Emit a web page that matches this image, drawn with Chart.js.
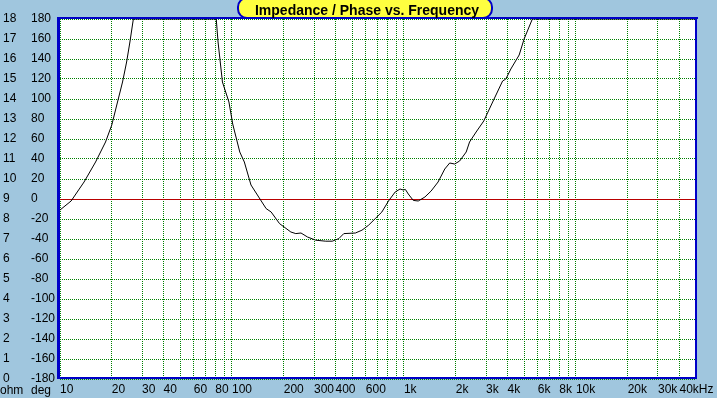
<!DOCTYPE html>
<html><head><meta charset="utf-8">
<script src="https://cdn.jsdelivr.net/npm/chart.js@4"></script>
<style>html,body{margin:0;padding:0;background:#a0c6de;overflow:hidden}canvas{display:block}</style>
</head><body>
<canvas id="c" width="717" height="398"></canvas>
<script>
const TITLE = 'Impedance / Phase vs. Frequency';
const UNIT_OHM = 'ohm';
const UNIT_DEG = 'deg';

// Impedance curve (Hz, ohm); 18 = clipped at top of scale
const frequencyHz = [10, 11.6, 13.8, 16.1, 18.4, 20, 21.6, 23.1, 24.4, 25.5, 26.7, 40, 60, 81,
  83, 88, 96, 101, 111, 118, 129, 148, 158, 169, 189, 201, 220, 235, 252, 275, 307, 351, 383,
  418, 447, 522, 570, 623, 681, 744, 813, 889, 949, 992, 1019, 1060, 1133, 1211, 1324, 1439,
  1579, 1727, 1845, 1972, 2107, 2301, 2407, 2628, 2911, 3280, 3746, 3914, 4183, 4677, 4997,
  5580, 10000, 50000];
const impedanceOhm = [8.45, 8.9, 9.85, 10.85, 11.85, 12.7, 13.85, 14.85, 15.85, 16.85, 18, 18, 18, 18,
  16.85, 14.85, 13.85, 12.75, 11.35, 10.85, 9.7, 8.9, 8.52, 8.35, 7.77, 7.6, 7.35, 7.27, 7.3, 7.1, 6.94, 6.89, 6.89,
  7.02, 7.27, 7.3, 7.44, 7.69, 8.02, 8.35, 8.9, 9.35, 9.5, 9.45, 9.48, 9.25, 8.93, 8.9, 9.1, 9.4,
  9.85, 10.5, 10.8, 10.75, 10.9, 11.35, 11.85, 12.35, 12.9, 13.85, 14.9, 15.0, 15.5, 16.2, 17.0,
  18, 18, 18];

// Axes
const freqMin = 10, freqMax = 50000;
const ohmMin = 0, ohmMax = 18, ohmStep = 1;
const degMin = -180, degMax = 180, degStep = 20;
const xGridValues = [10,20,30,40,50,60,70,80,90,100,200,300,400,500,600,700,800,900,
  1000,2000,3000,4000,5000,6000,7000,8000,9000,10000,20000,30000,40000];
const xLabelValues = [10,20,30,40,60,80,100,200,300,400,600,1000,2000,3000,4000,6000,8000,10000,20000,30000,40000];
const xLabelTexts = ['10','20','30','40','60','80','100','200','300','400','600','1k','2k','3k','4k','6k','8k','10k','20k','30k','40kHz'];

const BG = '#a0c6de';
const FRAME = '#0000c8';
const GRID = '#008000';
const ZERO = '#b80000';
const FONT = '"Liberation Sans", Arial, sans-serif';

const points = frequencyHz.map((f, i) => ({x: f, y: impedanceOhm[i]}));

const deco = {
  id: 'deco',
  beforeDraw(chart) {
    const ctx = chart.ctx, a = chart.chartArea;
    ctx.save();
    ctx.fillStyle = BG;
    ctx.fillRect(0, 0, chart.width, chart.height);
    ctx.fillStyle = '#ffffff';
    ctx.fillRect(a.left, a.top, a.right - a.left, a.bottom - a.top);
    ctx.restore();
  },
  beforeDatasetsDraw(chart) {
    const ctx = chart.ctx, a = chart.chartArea;
    const y = Math.round(chart.scales.deg.getPixelForValue(0)) + 0.5;
    ctx.save();
    ctx.strokeStyle = ZERO; ctx.lineWidth = 1;
    ctx.beginPath(); ctx.moveTo(a.left, y); ctx.lineTo(a.right, y); ctx.stroke();
    ctx.restore();
  },
  afterDraw(chart) {
    const ctx = chart.ctx, a = chart.chartArea;
    ctx.save();
    ctx.fillStyle = FRAME;
    const L = Math.round(a.left), R = Math.round(a.right), T = Math.round(a.top), B = Math.round(a.bottom);
    ctx.fillRect(L - 3, T - 2, 3, B - T + 2);
    ctx.fillRect(L - 3, T - 2, R - L + 5, 2);
    ctx.fillRect(R - 1, T - 2, 2, B - T + 2);
    ctx.fillRect(L - 3, B - 2, R - L + 4, 2);
    // unit labels
    ctx.fillStyle = '#000';
    ctx.font = '12px ' + FONT;
    ctx.textBaseline = 'alphabetic';
    ctx.textAlign = 'left';
    ctx.fillText(UNIT_OHM, chart.scales.ohm.left - 3, 394);
    ctx.fillText(UNIT_DEG, chart.scales.deg.left, 394);
    // title box
    const cx = 365;
    ctx.beginPath();
    ctx.roundRect(cx - 127, -2, 254, 20, 9);
    ctx.fillStyle = '#ffff40';
    ctx.fill();
    ctx.lineWidth = 2;
    ctx.strokeStyle = FRAME;
    ctx.stroke();
    ctx.fillStyle = '#000';
    ctx.font = 'bold 14px ' + FONT;
    ctx.textAlign = 'center';
    ctx.fillText(TITLE, cx + 2, 15);
    ctx.restore();
  }
};

new Chart(document.getElementById('c'), {
  type: 'line',
  data: { datasets: [{ data: points, yAxisID: 'ohm', xAxisID: 'x', borderColor: '#000', borderWidth: 1,
    pointRadius: 0, tension: 0, fill: false }] },
  options: {
    responsive: false, animation: false, devicePixelRatio: 1,
    layout: { padding: { left: 3, right: 20, top: 19, bottom: 0 } },
    plugins: { legend: { display: false }, tooltip: { enabled: false }, title: { display: false } },
    scales: {
      x: {
        type: 'logarithmic', min: freqMin, max: freqMax, position: 'bottom',
        afterBuildTicks(s) { s.ticks = xGridValues.map(v => ({ value: v })); },
        afterFit(s) { s.height = 19; },
        ticks: {
          autoSkip: false, maxRotation: 0, minRotation: 0, align: 'start', padding: 3,
          color: '#000', font: { family: FONT, size: 12 },
          callback(v) { const i = xLabelValues.indexOf(v); return i >= 0 ? xLabelTexts[i] : ''; }
        },
        grid: { color: GRID, lineWidth: 1, drawTicks: false },
        border: { display: false, dash: [1, 1] }
      },
      ohm: {
        type: 'linear', position: 'left', weight: 2, min: ohmMin, max: ohmMax,
        afterFit(s) { s.width = 28; },
        ticks: { stepSize: ohmStep, autoSkip: false, crossAlign: 'far', padding: 0, color: '#000',
          font: { family: FONT, size: 12 } },
        grid: { display: false, drawTicks: false },
        border: { display: false }
      },
      deg: {
        type: 'linear', position: 'left', weight: 1, min: degMin, max: degMax,
        afterFit(s) { s.width = 29; },
        ticks: { stepSize: degStep, autoSkip: false, crossAlign: 'far', padding: 0, color: '#000',
          font: { family: FONT, size: 12 } },
        grid: { color: (c) => c.tick && c.tick.value === 0 ? 'rgba(0,0,0,0)' : GRID, lineWidth: 1, drawTicks: false },
        border: { display: false, dash: [1, 1] }
      }
    }
  },
  plugins: [deco]
});
</script>
</body></html>
